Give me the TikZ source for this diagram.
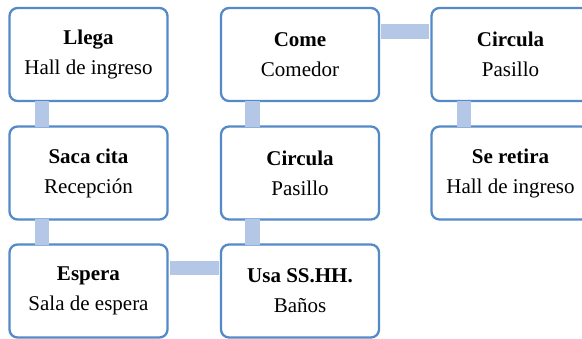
\documentclass[tikz,border=0pt]{standalone}
\usepackage{fontspec}
\setmainfont{Liberation Serif}
\definecolor{boxline}{RGB}{84,138,200}
\definecolor{barcol}{RGB}{180,199,231}
\begin{document}
\begin{tikzpicture}[x=1pt,y=-1pt,
  stepbox/.style={draw=boxline, line width=2.3pt, fill=white, rounded corners=8pt,
    minimum width=158pt, minimum height=93pt, inner sep=0pt, align=center,
    font=\fontsize{21}{30}\selectfont},
  bar/.style={draw=barcol, line width=14.5pt}]
\useasboundingbox (0,0) rectangle (582,339);
\begin{scope}
\clip (0,0) rectangle (582,339);
\node[stepbox] (llega) at (88.5,54.5) {\textbf{Llega}\\Hall de ingreso};
\node[stepbox] (saca) at (88.5,173) {\textbf{Saca cita}\\Recepción};
\node[stepbox] (espera) at (88.5,291) {\textbf{Espera}\\Sala de espera};
\node[stepbox] (usa) at (300,291) {\textbf{Usa SS.HH.}\\Baños};
\node[stepbox] (circ1) at (300,173) {\textbf{Circula}\\Pasillo};
\node[stepbox] (come) at (300,54.5) {\textbf{Come}\\Comedor};
\node[stepbox] (circ2) at (510.5,54.5) {\textbf{Circula}\\Pasillo};
\node[stepbox] (retira) at (510.5,173) {\textbf{Se retira}\\Hall de ingreso};
\end{scope}
\draw[bar] ([xshift=33.5pt,yshift=1.2pt]llega.south west) -- ([xshift=33.5pt,yshift=-1.2pt]saca.north west);
\draw[bar] ([xshift=33.5pt,yshift=1.2pt]saca.south west) -- ([xshift=33.5pt,yshift=-1.2pt]espera.north west);
\draw[bar] ([xshift=1.2pt,yshift=-24.5pt]espera.north east) -- ([xshift=-1.2pt,yshift=-24.5pt]usa.north west);
\draw[bar] ([xshift=32.5pt,yshift=-1.2pt]usa.north west) -- ([xshift=32.5pt,yshift=1.2pt]circ1.south west);
\draw[bar] ([xshift=32.5pt,yshift=-1.2pt]circ1.north west) -- ([xshift=32.5pt,yshift=1.2pt]come.south west);
\draw[bar] ([xshift=1.2pt,yshift=-24.5pt]come.north east) -- ([xshift=-1.2pt,yshift=-24.5pt]circ2.north west);
\draw[bar] ([xshift=33.5pt,yshift=1.2pt]circ2.south west) -- ([xshift=33.5pt,yshift=-1.2pt]retira.north west);
\end{tikzpicture}
\end{document}
